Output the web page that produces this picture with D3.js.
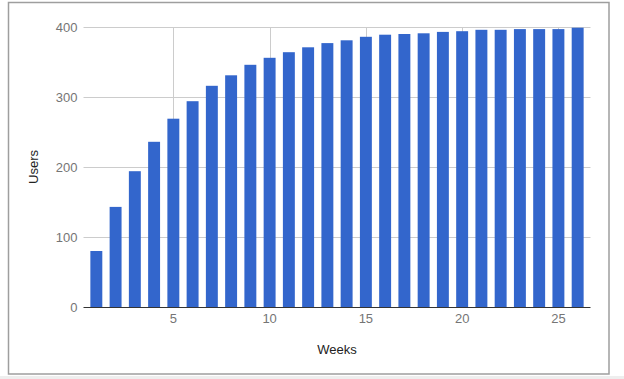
<!DOCTYPE html>
<html>
<head>
<meta charset="utf-8">
<script src="https://cdn.jsdelivr.net/npm/d3@7"></script>
<style>
  html, body { margin: 0; padding: 0; background: #fff; }
  svg { display: block; }
</style>
</head>
<body>
<svg id="chart" width="624" height="379"></svg>
<script>
// weeks 1..26
const weeks = d3.range(1, 27)
const users = [80, 143, 194, 236, 269, 294, 316, 331, 346, 356, 364, 371, 377,
               381, 386, 389, 390, 391, 393, 394, 396, 396, 397, 397, 397, 399]
const xTicks = [5, 10, 15, 20, 25]
const yTicks = [0, 100, 200, 300, 400]

const W = 624, H = 379
const plot = { left: 83.5, right: 590.5, top: 27, bottom: 307 }
const FONT = "Arial, 'Liberation Sans', sans-serif"

const svg = d3.select('#chart')

// page strip below the frame
svg.append('rect')
  .attr('x', 0).attr('y', 376)
  .attr('width', W).attr('height', 3)
  .attr('fill', '#eeeeee')

// frame
svg.append('rect')
  .attr('x', 8.5).attr('y', 2.5)
  .attr('width', 600.5).attr('height', 371.5)
  .attr('fill', '#fff')
  .attr('stroke', '#9e9e9e')
  .attr('stroke-width', 1.5)

const x = d3.scaleLinear()
  .domain([1 - 2 / 3, 26 + 2 / 3])
  .range([plot.left, plot.right])

const y = d3.scaleLinear()
  .domain([0, 400])
  .range([plot.bottom, plot.top])

const barW = (x(1) - x(0)) * 0.62

// horizontal grid
svg.append('g')
  .selectAll('line')
  .data(yTicks.filter(d => d > 0))
  .enter()
  .append('line')
  .attr('x1', plot.left).attr('x2', plot.right)
  .attr('y1', d => Math.round(y(d)) + 0.5)
  .attr('y2', d => Math.round(y(d)) + 0.5)
  .attr('stroke', '#cccccc')

// vertical grid
svg.append('g')
  .selectAll('line')
  .data(xTicks)
  .enter()
  .append('line')
  .attr('x1', d => Math.round(x(d)) + 0.5)
  .attr('x2', d => Math.round(x(d)) + 0.5)
  .attr('y1', plot.top).attr('y2', plot.bottom)
  .attr('stroke', '#cccccc')

// bars
svg.append('g')
  .selectAll('rect')
  .data(weeks)
  .enter()
  .append('rect')
  .attr('x', d => x(d) - barW / 2)
  .attr('width', barW)
  .attr('y', (d, i) => y(users[i]))
  .attr('height', (d, i) => y(0) - y(users[i]))
  .attr('fill', '#3366cc')

// baseline
svg.append('line')
  .attr('x1', plot.left).attr('x2', plot.right)
  .attr('y1', plot.bottom + 0.5).attr('y2', plot.bottom + 0.5)
  .attr('stroke', '#333333')

// y tick labels
svg.append('g')
  .selectAll('text')
  .data(yTicks)
  .enter()
  .append('text')
  .attr('x', plot.left - 6)
  .attr('y', d => y(d) + 4.5)
  .attr('text-anchor', 'end')
  .attr('font-family', FONT)
  .attr('font-size', '13px')
  .attr('fill', '#757575')
  .text(d => d)

// x tick labels
svg.append('g')
  .selectAll('text')
  .data(xTicks)
  .enter()
  .append('text')
  .attr('x', d => x(d))
  .attr('y', 323)
  .attr('text-anchor', 'middle')
  .attr('font-family', FONT)
  .attr('font-size', '13px')
  .attr('fill', '#757575')
  .text(d => d)

// axis titles
svg.append('text')
  .attr('x', (plot.left + plot.right) / 2)
  .attr('y', 353.5)
  .attr('text-anchor', 'middle')
  .attr('font-family', FONT)
  .attr('font-size', '13px')
  .attr('fill', '#222222')
  .text('Weeks')

svg.append('text')
  .attr('transform', `translate(37.5,${(plot.top + plot.bottom) / 2}) rotate(-90)`)
  .attr('text-anchor', 'middle')
  .attr('font-family', FONT)
  .attr('font-size', '13px')
  .attr('fill', '#222222')
  .text('Users')
</script>
</body>
</html>
